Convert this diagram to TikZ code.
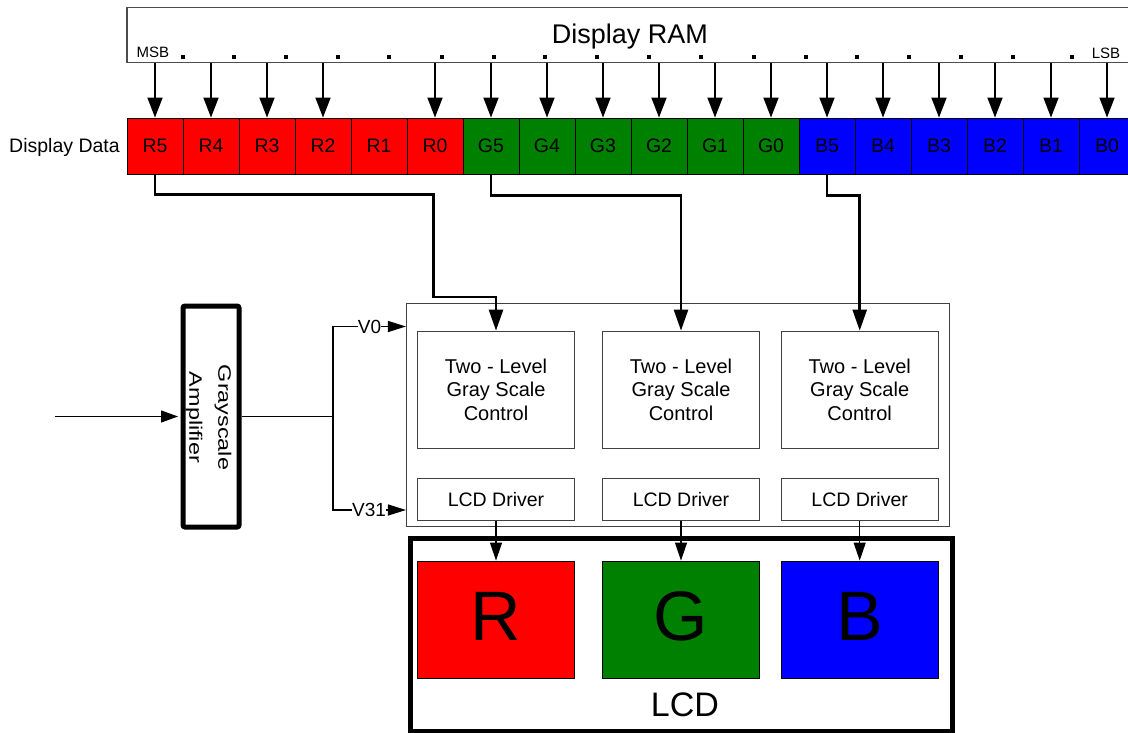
\documentclass[tikz,border=0pt]{standalone}
\usepackage{fontspec}
\setmainfont{Liberation Sans}
\usetikzlibrary{arrows.meta,calc}
\definecolor{cred}{RGB}{255,0,0}
\definecolor{cgreen}{RGB}{0,128,0}
\definecolor{cblue}{RGB}{0,0,255}
\newcommand{\fsz}[2]{\fontsize{#1}{#2}\selectfont}
\begin{document}
\begin{tikzpicture}[x=1pt,y=-1pt,
  cellbox/.style={draw=black,line width=0.8pt,minimum width=56pt,minimum height=56pt,inner sep=0pt,
    font=\fsz{19.5}{23},text height=14pt,text depth=0pt},
  rambox/.style={draw=black!70,line width=1.2pt,minimum width=1013pt,minimum height=55pt,inner sep=0pt},
  gbox/.style={draw=black!75,line width=1.1pt,inner sep=0pt},
  ampbox/.style={draw=black,line width=5pt,minimum width=56pt,minimum height=221pt,rounded corners=2pt,inner sep=0pt},
  lcdbox/.style={draw=black,line width=5pt,minimum width=542pt,minimum height=193.5pt,inner sep=0pt},
  sqbox/.style={draw=black,line width=1pt,minimum width=157pt,minimum height=117.3pt,inner sep=0pt,
    font=\fsz{70}{80},text height=50pt,text depth=0pt},
  ctlbox/.style={gbox,minimum width=157pt,minimum height=117pt,align=center,font=\fsz{20}{23.3}},
  drvbox/.style={gbox,minimum width=157pt,minimum height=41.7pt,font=\fsz{19.5}{23},text height=14pt,text depth=0pt},
  vlab/.style={inner sep=0pt,font=\fsz{19}{23},text height=13.6pt,text depth=0pt},
  ramarr/.style={line width=1.5pt,-{Triangle[length=20pt,width=15pt]}},
  conn/.style={line width=2.5pt,-{Triangle[length=21pt,width=14pt]}},
  wire/.style={line width=1.3pt},
  inarr/.style={line width=1.3pt,-{Triangle[length=17pt,width=12pt]}},
  varr/.style={line width=1.3pt,-{Triangle[length=18pt,width=11pt]}},
  darr/.style={line width=1.2pt,-{Triangle[length=18pt,width=12pt]}}
]
\useasboundingbox (0,0) rectangle (1128,733);
\fill[white] (0,0) rectangle (1128,733);
\clip (0,0) rectangle (1128,733);

% Display RAM
\node[rambox] (ram) at (633.5,35) {};
\node[inner sep=0pt,font=\fsz{27}{32},text height=19.3pt,text depth=0pt] (ramlabel) at (630,34) {Display RAM};
\node[inner sep=0pt,font=\fsz{15}{17},text height=10.7pt,text depth=0pt] (msb) at (153,52.5) {MSB};
\node[inner sep=0pt,font=\fsz{15}{17},text height=10.7pt,text depth=0pt] (lsb) at (1106,53.5) {LSB};
\foreach \dx in {183,234,286,338,389,442,494,545,597,649,701,754,806,857,909,961,1013,1072}
  \fill (\dx-1.75,55.5) rectangle ++(3.5,3.5);

% Display data cells
\node[inner sep=0pt,font=\fsz{19.5}{23},text height=14pt,text depth=0pt] (ddlabel) at (64.5,146) {Display Data};
\foreach \lab [count=\i from 0] in {R5,R4,R3,R2,R1,R0,G5,G4,G3,G2,G1,G0,B5,B4,B3,B2,B1,B0} {
  \pgfmathsetmacro\cx{155+56*\i}
  \ifnum\i<6 \def\col{cred}\else\ifnum\i<12 \def\col{cgreen}\else\def\col{cblue}\fi\fi
  \node[cellbox,fill=\col] (c\i) at (\cx,146) {\lab};
}
\foreach \i in {0,1,2,3,5,6,7,8,9,10,11,12,13,14,15,16,17}
  \draw[ramarr] (c\i.north |- ram.south) -- (c\i.north);

% Control block
\node[gbox,minimum width=542.8pt,minimum height=223.4pt] (outer) at (677.9,415) {};
\node[ctlbox] (ctl1) at (496,389.7) {Two - Level\\Gray Scale\\Control};
\node[ctlbox] (ctl2) at (681,389.7) {Two - Level\\Gray Scale\\Control};
\node[ctlbox] (ctl3) at (859.7,389.7) {Two - Level\\Gray Scale\\Control};
\node[drvbox] (drv1) at (496,499.2) {LCD Driver};
\node[drvbox] (drv2) at (681,499.2) {LCD Driver};
\node[drvbox] (drv3) at (859.7,499.2) {LCD Driver};

% Data connectors
\coordinate (k1) at (433.5,297);
\draw[conn] (c0.south) -- ++(0,20) -| (k1) -| (ctl1.north);
\draw[conn] (c6.south) -- ++(0,21) -| (ctl2.north);
\draw[conn] (c12.south) -- ++(0,21) -| (ctl3.north);

% Grayscale amplifier
\node[ampbox] (amp) at (211,416.5) {};
\node[rotate=-90,align=center,inner sep=0pt,font=\fsz{18}{29}] (amptext) at (208.5,417.5)
  {\scalebox{1.3}[1]{Grayscale}\\\scalebox{1.3}[1]{Amplifier}};
\coordinate (in) at (55,416.5);
\draw[inarr,shorten >=2.5pt] (in) -- (amp.west);
\coordinate (j) at (333,416.5);
\draw[wire] (amp.east) -- (j);
\node[vlab] (v0) at (369.5,326.5) {V0};
\node[vlab] (v31) at (369,510) {V31};
\draw[wire] (j) |- (v0.west);
\draw[wire] (j) |- (v31.west);
\draw[varr] (v0.east) -- (v0.east -| outer.west);
\draw[varr] (v31.east) -- (v31.east -| outer.west);

% LCD
\node[lcdbox] (lcd) at (681,634.75) {};
\node[sqbox,fill=cred] (sqR) at (496,619.7) {\raisebox{4.5pt}{R}};
\node[sqbox,fill=cgreen] (sqG) at (681,619.7) {\raisebox{4.5pt}{G}};
\node[sqbox,fill=cblue] (sqB) at (859.7,619.7) {\raisebox{4.5pt}{B}};
\node[inner sep=0pt,font=\fsz{34}{40},text height=24.3pt,text depth=0pt] (lcdlabel) at (685,704) {LCD};
\draw[darr] (drv1.south) -- (sqR.north);
\draw[darr] (drv2.south) -- (sqG.north);
\draw[darr] (drv3.south) -- (sqB.north);
\end{tikzpicture}
\end{document}
